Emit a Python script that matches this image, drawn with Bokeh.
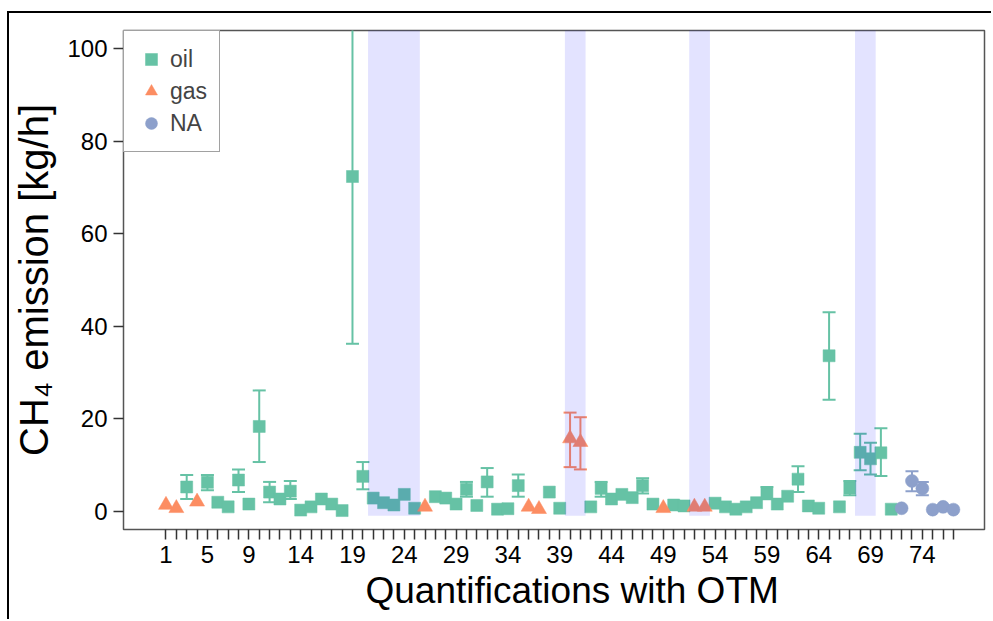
from bokeh.plotting import figure
from bokeh.models import ColumnDataSource, FixedTicker, Range1d, Legend, LegendItem, Title
from bokeh.embed import file_html
from bokeh.resources import INLINE

# ---------------- data ----------------
quantification = list(range(1, 78))
emission = [
    1.3, 0.6, 5.2, 2.0, 6.2, 1.9, 0.9, 6.7, 1.5, 18.3,
    4.1, 2.6, 4.3, 0.2, 0.9, 2.6, 1.5, 0.1, 72.4, 7.5,
    2.8, 1.8, 1.3, 3.6, 0.6, 0.9, 3.1, 2.8, 1.5, 4.7,
    1.2, 6.3, 0.4, 0.5, 5.5, 0.9, 0.4, 4.1, 0.6, 15.7,
    14.9, 0.9, 4.9, 2.6, 3.6, 2.9, 5.5, 1.5, 0.6, 1.3,
    1.1, 0.9, 0.9, 1.7, 0.9, 0.4, 0.9, 1.8, 3.7, 1.5,
    3.2, 6.9, 1.1, 0.6, 33.6, 0.9, 5.0, 12.7, 11.3, 12.6,
    0.4, 0.6, 6.5, 4.9, 0.3, 0.9, 0.3,
]
source_type = [
    "gas", "gas", "oil", "gas", "oil", "oil", "oil", "oil", "oil", "oil",
    "oil", "oil", "oil", "oil", "oil", "oil", "oil", "oil", "oil", "oil",
    "oil", "oil", "oil", "oil", "oil", "gas", "oil", "oil", "oil", "oil",
    "oil", "oil", "oil", "oil", "oil", "gas", "gas", "oil", "oil", "gas",
    "gas", "oil", "oil", "oil", "oil", "oil", "oil", "oil", "gas", "oil",
    "oil", "gas", "gas", "oil", "oil", "oil", "oil", "oil", "oil", "oil",
    "oil", "oil", "oil", "oil", "oil", "oil", "oil", "oil", "oil", "oil",
    "oil", "NA", "NA", "NA", "NA", "NA", "NA",
]
# lower / upper uncertainty bounds (None = bar hidden behind the marker)
err_low = [
    None, None, 2.6, None, 4.5, None, None, 4.1, None, 10.6,
    1.9, None, 2.6, None, None, None, None, None, 36.2, 4.7,
    None, None, None, None, None, None, None, None, None, 3.1,
    None, 3.1, None, None, 3.1, None, None, None, None, 9.5,
    9.0, None, 3.1, None, None, None, 3.8, None, None, None,
    None, None, None, None, None, None, None, None, 2.6, None,
    None, 4.1, None, None, 24.1, None, 3.4, 8.8, 7.9, 7.6,
    None, None, 4.3, 3.4, None, 0.5, None,
]
err_high = [
    None, None, 7.8, None, 7.8, None, None, 9.0, None, 26.1,
    6.3, None, 6.5, None, None, None, None, None, 108.6, 10.6,
    None, None, None, None, None, None, None, None, None, 6.3,
    None, 9.3, None, None, 7.9, None, None, None, None, 21.3,
    20.3, None, 6.3, None, None, None, 7.1, None, None, None,
    None, None, None, None, None, None, None, None, 5.2, None,
    None, 9.7, None, None, 43.0, None, 6.5, 16.7, 14.8, 17.9,
    None, None, 8.6, 6.3, None, 1.3, None,
]
categories = ["oil", "gas", "NA"]

# highlighted quantification groups
shade_start = [20.5, 39.5, 51.5, 67.5]
shade_end = [25.5, 41.5, 53.5, 69.5]

x_ticks = list(range(1, 78))
x_tick_labels = [1, 5, 9, 14, 19, 24, 29, 34, 39, 44, 49, 54, 59, 64, 69, 74]
y_ticks = [0, 20, 40, 60, 80, 100]

# ---------------- styles ----------------
colors = {"oil": "#66C2A5", "gas": "#FC8D62", "NA": "#8DA0CB"}
markers = {"oil": "square", "gas": "triangle", "NA": "circle"}
msizes = {"oil": 12, "gas": 15, "NA": 13}
FONT = "Liberation Sans"

p = figure(
    width=984, height=608,
    x_range=Range1d(-3.1, 80.0), y_range=Range1d(-4, 104),
    output_backend="svg", toolbar_location=None,
    min_border_left=114, min_border_right=9, min_border_top=17, min_border_bottom=92,
)
# outer black frame of the original figure (top and left edges)
p.styles = {"border-left": "2px solid black", "border-top": "2px solid black",
            "margin-left": "7px", "margin-top": "11px"}
p.xgrid.visible = False
p.ygrid.visible = False
p.outline_line_color = "#555555"
p.outline_line_width = 1.5
p.background_fill_color = "white"
p.border_fill_color = "white"

renderers = {}
for cat in categories:
    idx = [i for i, t in enumerate(source_type) if t == cat]
    eidx = [i for i in idx if err_low[i] is not None]
    esrc = ColumnDataSource(dict(
        x=[quantification[i] for i in eidx],
        lo=[err_low[i] for i in eidx],
        hi=[err_high[i] for i in eidx],
    ))
    p.segment(x0="x", y0="lo", x1="x", y1="hi", source=esrc,
              line_color=colors[cat], line_width=2)
    p.scatter(x="x", y="lo", source=esrc, marker="dash", size=13,
              line_color=colors[cat], line_width=2)
    p.scatter(x="x", y="hi", source=esrc, marker="dash", size=13,
              line_color=colors[cat], line_width=2)
    src = ColumnDataSource(dict(
        x=[quantification[i] for i in idx],
        y=[emission[i] for i in idx],
    ))
    renderers[cat] = p.scatter(x="x", y="y", source=src, marker=markers[cat],
                               size=msizes[cat], fill_color=colors[cat],
                               line_color=colors[cat], line_width=0.5)

# translucent highlight drawn over the points
p.quad(left=shade_start, right=shade_end, bottom=-1, top=110,
       fill_color=(0, 0, 255), fill_alpha=0.11, line_color=None)

# axes
p.xaxis.ticker = FixedTicker(ticks=x_ticks)
p.xaxis.major_label_overrides = {t: (str(t) if t in x_tick_labels else "") for t in x_ticks}
p.yaxis.ticker = FixedTicker(ticks=y_ticks)
for ax in (p.xaxis[0], p.yaxis[0]):
    ax.axis_line_color = None
    ax.major_tick_in = 0
    ax.major_tick_out = 10
    ax.major_tick_line_color = "#333333"
    ax.major_tick_line_width = 1.5
    ax.minor_tick_line_color = None
    ax.major_label_text_font = FONT
    ax.major_label_text_font_size = "24px"
    ax.major_label_text_color = "black"
    ax.axis_label_text_font = FONT
    ax.axis_label_text_font_style = "normal"
    ax.axis_label_text_color = "black"
p.yaxis.axis_label = "CH\u2084 emission [kg/h]"
p.yaxis.axis_label_text_font_size = "40px"
p.xaxis.major_label_standoff = 6
p.yaxis.major_label_standoff = 6
p.yaxis.axis_label_standoff = 8
p.yaxis.major_label_orientation = "horizontal"

# x-axis title (placed slightly right of centre, as in the original)
p.add_layout(Title(text="Quantifications with OTM", align="left", offset=242,
                   text_font=FONT, text_font_size="37px", text_font_style="normal",
                   text_color="black", standoff=5), "below")

legend = Legend(items=[LegendItem(label=c, renderers=[renderers[c]]) for c in categories],
                location="top_left")
legend.margin = 0
legend.padding = 12
legend.spacing = 0
legend.glyph_width = 30
legend.glyph_height = 32
legend.label_height = 32
legend.label_standoff = 4
legend.label_text_font = FONT
legend.label_text_font_size = "23px"
legend.border_line_color = "#444444"
legend.border_line_width = 1.5
legend.background_fill_alpha = 1
p.add_layout(legend)

open("out.html", "w").write(file_html(p, INLINE))
